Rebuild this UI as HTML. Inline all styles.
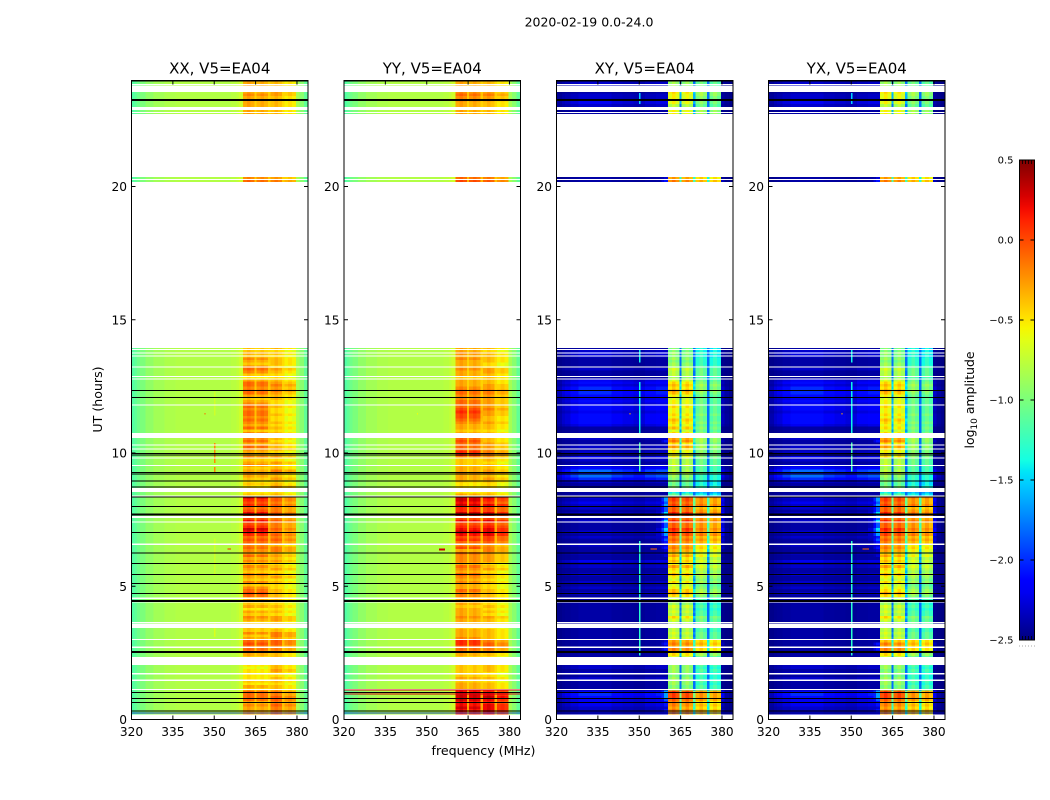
<!DOCTYPE html>
<html>
<head>
<meta charset="utf-8">
<title>2020-02-19 amplitude waterfall</title>
<style>
html,body{margin:0;padding:0;background:#fff;}
svg{display:block;font-family:"DejaVu Sans","Liberation Sans",sans-serif;fill:#000;}
</style>
</head>
<body>
<svg id="chart" xmlns="http://www.w3.org/2000/svg" width="1050" height="800" viewBox="0 0 1050 800">
<defs><linearGradient id="jetGrad" x1="0" y1="1" x2="0" y2="0"></linearGradient></defs>
<rect x="0" y="0" width="1050" height="800" fill="#fff"></rect>
<text x="589" y="26.5" font-size="12.5" text-anchor="middle">2020-02-19 0.0-24.0</text>
<text x="483.5" y="755" font-size="12.6" text-anchor="middle">frequency (MHz)</text>
<text transform="translate(102,399.5) rotate(-90)" font-size="12.6" text-anchor="middle">UT (hours)</text>
<g id="panels"></g>
<g id="colorbar"></g>
<text transform="translate(974,400) rotate(-90)" font-size="12.4" text-anchor="middle">log<tspan font-size="9" dy="3">10</tspan><tspan dy="-3"> amplitude</tspan></text>
</svg>
<script>
// Row start times (hours) of the populated upper rows; rows 0..139 are the 0-14 h block.
const upperRowHours = [20.18,20.28,22.7,22.8,23.0,23.1,23.2,23.3,23.4,23.5,23.8,23.9];

// Channel edges in MHz
const channelEdges = [320,321,322,323,325,328,332,336,340,344,348,352,354,356,358,359,360.4,
  361.8,363.2,364.6,365.4,366.8,368.1,369.5,370.4,371.8,373.2,374.6,375.4,376.8,378.2,379.6,381,382.5,384];
// Channel kind: -1 out of band, 0 = lower bands, 1 = upper bands, 2 = gap
const channelKind = [-1,-1,-1,-1,-1,-1,-1,-1,-1,-1,-1,-1,-1,-1,-1,-1, 0,0,0,2,0,0,0,2,1,1,1,2,1,1,1, -1,-1,-1];

// Out-of-band co-pol spectrum (0.1 dex), one per out-of-band channel
const coSpectrum = [-11.5,-11,-10.5,-10,-9.2,-8.6,-8.2,-8,-8,-8,-8,-8,-8,-7.8,-7.5,-7,-8.5,-9.5,-11];
// Out-of-band cross-pol spectral weight for faint background structure
const crossSpectrum = [.3,.3,.5,.6,.8,1,1,1,.8,.7,.6,.8,.8,.9,.9,.9,.4,.2,.1];
// Leakage near the band edge in cross-pol
const crossLeak = [0,0,0,0,0,0,0,0,0,0,0,0,.05,.15,.4,.7,.25,.05,0];
// Constant offset for each of the four bands, 0.1 dex
const coBandTrim = [0,-.3,.3,-1.2];
const crossBandTrim = [.5,0,-.3,-1];

// Band levels by time row, 0.1 dex. Lower bands (360-370 MHz) and upper bands (370-380 MHz).
const xxLower = [
-4,-4,-3,-3,-3,-2,-3,-1,-1,-1,
-1,-4,-3,-5,-4,-5,-5,-5,-5,-6,
-5,-4,-4,-4,-3,-2,-1,-1,0,-1,
-3,-4,-2,-4,-4,-4,-4,-3,-2,-4,
-3,-5,-3,-4,-4,-3,-1,0,-1,-2,
-4,-2,-4,-3,-2,-4,-3,-2,-4,-2,
-3,-1,-3,-2,-1,-2,-1,0,-1,1,
2,3,1,0,2,0,1,2,0,-1,
1,0,1,3,-4,-5,-5,-5,-4,-5,
-4,-3,-2,-3,-4,-2,-3,-4,-2,-3,
-3,-2,-1,-3,-1,-2,-2,-2,-4,-1,
-3,-2,-1,-2,-1,-1,-2,-1,-2,-3,
-4,-3,-1,-1,-2,-1,-1,-3,-5,-4,
-2,-1,-2,-4,-3,-2,-4,-3,-4,-4,
-1,-2,-3,-3,-3,-3,-3,-3,-2,-3,-3,-3];
const xxUpper = [
-2,-2,-2,-2,-2,-1,-2,-1,-1,-2,
-2,-4,-4,-5,-4,-4,-5,-4,-3,-4,
-4,-4,-4,-4,-4,-3,-2,-2,-1,-1,
-3,-2,-2,-4,-5,-5,-4,-3,-3,-5,
-4,-5,-4,-5,-5,-4,-4,-4,-4,-5,
-5,-4,-5,-3,-4,-5,-3,-4,-5,-3,
-4,-3,-4,-2,-2,-4,-2,-1,-2,-1,
-2,-1,-2,-2,-1,-2,-1,-1,-2,-2,
-1,-2,-1,-1,-4,-5,-4,-3,-4,-5,
-3,-4,-3,-2,-4,-4,-3,-5,-3,-4,
-5,-3,-4,-4,-5,-4,-4,-4,-5,-4,
-5,-4,-5,-5,-4,-5,-5,-4,-5,-5,
-4,-4,-3,-2,-3,-2,-3,-4,-5,-5,
-4,-3,-5,-4,-4,-4,-5,-4,-5,-4,
-2,-3,-4,-4,-4,-4,-4,-4,-3,-3,-4,-4];
const yyLower = [
1,1,1,2,3,2,2,3,3,3,
2,-3,-3,-3,-4,-3,-4,-4,-4,-4,
-4,-4,-4,-4,-3,-2,-1,0,1,1,
-2,-3,-3,-3,-4,-3,-3,-3,-2,-3,
-3,-3,-4,-3,-3,-3,-2,-2,-1,-3,
-3,-2,-3,-2,-1,-3,-2,-1,-3,-2,
-2,-2,-1,-3,0,-2,-1,1,0,2,
3,2,1,0,2,0,2,3,1,1,
3,2,3,3,-3,-5,-5,-5,-5,-4,
-3,-3,-2,-3,-3,-4,-4,-4,-2,1,
1,-1,-1,-1,0,-1,-1,-3,-4,-3,
-3,-2,-1,0,0,1,0,-1,-1,-1,
-2,-2,-1,-1,-2,-3,-3,-3,-4,-3,
-3,-2,-3,-3,-3,-2,-3,-2,-3,-3,
0,-1,-3,-3,-3,-3,-2,-2,-1,-2,-3,-3];
const yyUpper = [
1,1,1,2,2,2,1,2,3,2,
1,-4,-4,-4,-5,-4,-5,-5,-4,-4,
-4,-4,-4,-5,-4,-3,-2,-1,-1,-2,
-4,-4,-4,-4,-5,-5,-4,-4,-3,-5,
-4,-5,-4,-5,-5,-4,-4,-4,-4,-5,
-5,-4,-5,-4,-4,-5,-3,-4,-5,-3,
-3,-3,-3,-2,-2,-3,-1,0,0,2,
2,2,1,0,2,0,1,2,0,0,
2,0,1,2,-4,-5,-5,-5,-5,-4,
-3,-4,-2,-3,-4,-4,-5,-4,-3,-2,
-2,-3,-3,-3,-4,-4,-4,-4,-5,-4,
-4,-3,-4,-4,-3,-3,-2,-3,-3,-3,
-3,-3,-2,-2,-3,-3,-4,-4,-4,-4,
-3,-3,-5,-5,-4,-4,-4,-4,-5,-4,
-1,-2,-4,-4,-4,-4,-3,-3,-2,-3,-4,-4];
const xyLower = [
-3,-3,-3,-2,-3,-2,-2,-1,0,0,
0,-9,-10,-9,-9,-9,-10,-9,-9,-9,
-9,-9,-9,-7,-5,-3,-2,-3,-2,-3,
-7,-8,-7,-8,-8,-8,-8,-7,-5,-8,
-7,-8,-7,-9,-9,-8,-5,-3,-4,-6,
-7,-5,-7,-6,-4,-6,-5,-3,-6,-4,
-5,-3,-5,-3,-2,-3,-2,-1,-2,0,
0,1,-1,-1,1,-1,0,1,-1,-1,
0,-1,0,0,-11,-14,-11,-10,-11,-10,
-10,-9,-7,-8,-9,-7,-8,-8,-6,-6,
-6,-5,-3,-5,-2,-3,-4,-5,-7,-4,
-6,-5,-4,-6,-5,-6,-6,-5,-6,-6,
-7,-6,-4,-3,-5,-4,-5,-7,-9,-8,
-8,-7,-9,-9,-10,-9,-10,-9,-10,-10,
-2,-3,-6,-6,-8,-6,-6,-6,-6,-5,-9,-9];
const xyUpper = [
-4,-4,-4,-3,-4,-3,-4,-2,-2,-2,
-2,-11,-11,-12,-11,-12,-12,-12,-11,-12,
-11,-11,-11,-10,-8,-5,-4,-4,-3,-4,
-10,-10,-10,-11,-11,-11,-10,-10,-9,-11,
-11,-12,-11,-12,-12,-11,-9,-7,-8,-9,
-10,-8,-9,-8,-7,-8,-7,-6,-8,-6,
-7,-5,-7,-5,-4,-5,-3,-2,-3,-1,
-2,-1,-2,-2,-1,-2,-1,-1,-2,-3,
-1,-2,-2,-1,-13,-15,-13,-12,-13,-13,
-12,-12,-10,-11,-11,-10,-10,-10,-9,-9,
-9,-9,-8,-9,-8,-8,-9,-9,-10,-9,
-10,-9,-10,-10,-9,-10,-10,-10,-10,-10,
-10,-10,-9,-8,-9,-8,-9,-10,-11,-10,
-10,-10,-11,-12,-12,-12,-13,-12,-13,-13,
-3,-4,-8,-8,-10,-9,-9,-9,-8,-8,-10,-10];
const yxLower = [
-3,-3,-3,-2,-3,-2,-2,-1,0,0,
0,-9,-10,-9,-9,-9,-10,-9,-10,-9,
-9,-9,-9,-7,-5,-3,-2,-3,-2,-4,
-7,-8,-7,-8,-8,-8,-8,-7,-5,-8,
-7,-8,-7,-9,-9,-8,-5,-3,-5,-6,
-7,-5,-7,-6,-4,-6,-5,-3,-6,-4,
-5,-3,-5,-3,-2,-3,-2,-1,-2,0,
0,1,-1,-1,1,-1,0,1,-1,-1,
0,-1,0,0,-11,-14,-11,-10,-11,-10,
-10,-9,-7,-8,-9,-7,-8,-8,-5,-5,
-6,-5,-3,-5,-2,-3,-4,-5,-7,-5,
-6,-5,-4,-6,-5,-6,-6,-5,-6,-6,
-7,-6,-4,-3,-5,-4,-5,-7,-9,-8,
-8,-7,-9,-9,-10,-9,-10,-9,-10,-10,
-2,-3,-6,-6,-8,-6,-6,-6,-6,-5,-9,-9];
const yxUpper = [
-4,-4,-4,-3,-4,-3,-4,-2,-2,-2,
-2,-11,-11,-12,-11,-12,-12,-12,-11,-12,
-11,-11,-11,-10,-8,-5,-4,-4,-3,-4,
-10,-10,-10,-11,-11,-11,-10,-10,-9,-11,
-11,-12,-11,-12,-12,-11,-9,-7,-8,-9,
-10,-8,-9,-8,-7,-8,-7,-6,-8,-6,
-7,-5,-7,-5,-4,-5,-3,-2,-3,-1,
-2,-1,-2,-2,-1,-2,-1,-1,-2,-3,
-1,-2,-2,-1,-13,-15,-13,-12,-13,-13,
-12,-12,-10,-11,-11,-10,-10,-10,-9,-9,
-9,-9,-8,-9,-8,-8,-9,-9,-10,-9,
-10,-9,-10,-10,-9,-10,-10,-10,-10,-10,
-10,-10,-9,-8,-9,-8,-9,-10,-11,-10,
-10,-10,-11,-12,-12,-12,-13,-12,-13,-13,
-3,-4,-8,-8,-10,-9,-9,-9,-8,-8,-10,-10];
// Faint off-band structure in cross-pols, 0.1 dex above the floor
const crossBackground = [
1,1,2,2,2,3,3,3,4,5,
3,1,1,1,1,2,1,2,1,2,
2,2,2,1,1,1,1,1,1,1,
1,1,1,1,1,1,1,1,1,1,
1,1,1,1,1,1,1,2,1,2,
1,2,1,1,2,1,1,2,1,3,
1,1,2,1,1,2,1,1,2,1,
2,1,1,1,2,1,1,2,1,2,
2,3,2,3,1,1,1,1,1,3,
5,7,4,7,4,2,1,2,3,2,
2,1,2,1,1,2,1,1,1,1,
3,4,4,4,4,3,4,4,3,4,
3,4,5,5,5,3,4,3,1,1,
1,2,1,1,1,1,2,3,2,1,
1,1,1,1,2,3,3,2,2,1,2,2];

// Horizontal flag bands with no data, hour ranges
const whiteStarts = [0,1.11,1.44,1.69,2.045,2.69,2.99,3.43,3.61,4.39,4.53,6.555,7.39,7.56,8.37,8.54,9.51,9.79,10.13,10.28,10.56,11.78,12.76,12.85,13.21,13.62,13.73,13.87,13.94,20.25,20.36,22.7,22.76,22.87,23.55,23.8];
const whiteEnds   = [.195,1.15,1.5,1.745,2.345,2.73,3.03,3.58,3.65,4.43,4.57,6.595,7.43,7.64,8.41,8.68,9.55,9.83,10.17,10.32,10.75,11.82,12.8,12.89,13.25,13.66,13.77,13.91,14,20.28,20.4,22.72,22.8,22.9,23.6,23.84];
// Zero-amplitude rows drawn in black: hour, thickness
const blackHours = [.31,.645,.795,1.02,2.53,4.45,4.735,5.11,5.45,5.86,6.24,7.02,7.685,8,8.34,8.72,8.95,9.21,9.26,9.925,9.99,12.09,12.34,23.25,23.96];
const blackThick = [1,1,1,1,2,2,1,1,1,1,1,1,2,1,1,1,1,1,1,1,1,1,1,2,1];
// Narrow interference features per panel: f0, f1, t0, t1, value(0.1 dex)
const coInterference = [[350,350.4,9.62,10.37,-2],[350,350.4,9.29,9.47,-2],[350,350.4,11.4,12.3,-7],[350,350.4,3.1,3.6,-6.5],[350,350.4,5.4,6.8,-7]];
const xxSpots = [[346.4,346.9,11.44,11.5,-1],[354.9,356.1,6.37,6.42,1]];
const yySpots = [[354.5,356.6,6.35,6.42,3],[346.4,346.9,11.44,11.5,-6]];
const crossInterference = [[350,350.4,2.4,6.7,-13],[350,350.4,9.3,10.4,-12],[350,350.4,10.75,12.66,-14],[350,350.4,13.4,13.9,-14],[350,350.4,23.1,23.5,-15]];
const crossSpots = [[346.4,346.9,11.44,11.5,-3],[354,356.5,6.37,6.42,-1]];
// YY-only red lines and the common blue line, hours
const yyRedHours = [1.1,.95];
const blueHours = [.24];

const xTicks = [320,335,350,365,380];
const yTicks = [0,5,10,15,20];
const cbarTicks = [0.5,0,-0.5,-1,-1.5,-2,-2.5];
const cbarTickLabels = ["0.5","0.0","\u22120.5","\u22121.0","\u22121.5","\u22122.0","\u22122.5"];

const panelDefs = [
 {name:"XX, V5=EA04",key:"xx",left:131.5,right:308,lower:xxLower,upper:xxUpper,cross:false,rfi:coInterference.concat(xxSpots)},
 {name:"YY, V5=EA04",key:"yy",left:344,right:520.5,lower:yyLower,upper:yyUpper,cross:false,rfi:yySpots},
 {name:"XY, V5=EA04",key:"xy",left:556.5,right:733,lower:xyLower,upper:xyUpper,cross:true,rfi:crossInterference.concat(crossSpots)},
 {name:"YX, V5=EA04",key:"yx",left:768.5,right:945,lower:yxLower,upper:yxUpper,cross:true,rfi:crossInterference.concat(crossSpots)}
];

const NS = "http://www.w3.org/2000/svg";
function svgEl(tag, attrs, parent){
  const e = document.createElementNS(NS, tag);
  for (const k in attrs) e.setAttribute(k, attrs[k]);
  if (parent) parent.appendChild(e);
  return e;
}
function seg(pts, t){
  for (let i = 1; i < pts.length; i++){
    if (t <= pts[i][0]){
      const a = pts[i-1], b = pts[i];
      return a[1] + (b[1]-a[1])*(t-a[0])/(b[0]-a[0]);
    }
  }
  return pts[pts.length-1][1];
}
const R = [[0,0],[.35,0],[.66,1],[.89,1],[1,.5]];
const G = [[0,0],[.125,0],[.375,1],[.64,1],[.91,0],[1,0]];
const B = [[0,.5],[.11,1],[.34,1],[.65,0],[1,0]];
function jet(t){
  t = Math.max(0, Math.min(1, t));
  return "rgb(" + Math.round(255*seg(R,t)) + "," + Math.round(255*seg(G,t)) + "," + Math.round(255*seg(B,t)) + ")";
}
// value in 0.1 dex -> colour
function colorOf(v){ return jet((v/10 + 2.5)/3); }

const yAxis = t => 719.5 - t*26.65;
const rowCount = 140 + upperRowHours.length;
function rowHour(i){ return i < 140 ? i*0.1 : upperRowHours[i-140]; }

function cellValue(p, row, ch){
  const kind = channelKind[ch];
  const level = p.lower[row], levelUp = p.upper[row];
  if (kind === -1){
    const oi = ch < 16 ? ch : ch - 15;
    if (!p.cross) return coSpectrum[oi];
    const base = -25 + crossBackground[row]*crossSpectrum[oi];
    const leak = -25 + crossLeak[oi]*Math.max(0, level+4)*3;
    return Math.max(base, leak);
  }
  if (kind === 2){
    const ref = ch < 24 ? level : levelUp;
    if (!p.cross) return -5 + (ref+5)*0.3;
    return -18 + Math.max(0, ref+8)*1.0;
  }
  const v = kind === 0 ? level : levelUp;
  const band = Math.floor((ch - 16) / 4);
  const pos = (ch - 16) % 4;
  const trim = p.cross ? crossBandTrim[band] : coBandTrim[band];
  const edge = pos === 1 ? 0.4 : (p.cross ? -0.8 : -0.2);
  return v + trim + edge;
}

function drawPanel(p, root){
  const g = svgEl("g", {}, root);
  
  
  const xAxis = f => p.left + (f-320)*(p.right-p.left)/64;

  const cells = svgEl("g", {"shape-rendering":"crispEdges"}, g);
  
  
  const frag = document.createDocumentFragment();
  for (let r = 0; r < rowCount; r++){
    const t0 = rowHour(r);
    const yTop = yAxis(t0 + 0.1), yBot = yAxis(t0);
    for (let c = 0; c < channelEdges.length-1; c++){
      const x0 = xAxis(channelEdges[c]), x1 = xAxis(channelEdges[c+1]);
      const cell = svgEl("rect", {x:x0.toFixed(2), y:yTop.toFixed(2), width:(x1-x0+0.3).toFixed(2), height:(yBot-yTop+0.3).toFixed(2), fill:colorOf(cellValue(p,r,c))});
      
      
      frag.appendChild(cell);
    }
  }
  cells.appendChild(frag);

  const overlay = svgEl("g", {"shape-rendering":"crispEdges"}, g);
  
  
  p.rfi.forEach(q => {
    const m = svgEl("rect", {x:xAxis(q[0]), y:yAxis(q[3]), width:Math.max(1, xAxis(q[1])-xAxis(q[0])), height:Math.max(1, yAxis(q[2])-yAxis(q[3])), fill:colorOf(q[4])}, overlay);
    
    
  });
  whiteStarts.forEach((s,i) => {
    const m = svgEl("rect", {x:p.left, y:yAxis(whiteEnds[i]), width:p.right-p.left, height:Math.max(1, yAxis(s)-yAxis(whiteEnds[i])), fill:"#fff"}, overlay);
    
    
  });
  blueHours.forEach(h => {
    const m = svgEl("rect", {x:p.left, y:yAxis(h)-0.5, width:p.right-p.left, height:1, fill:p.cross?"#00007f":"#2040c0"}, overlay);
    
    
  });
  blackHours.forEach((h,i) => {
    const m = svgEl("rect", {x:p.left, y:(yAxis(h)-blackThick[i]/2).toFixed(2), width:p.right-p.left, height:blackThick[i], fill:"#000"}, overlay);
    
    
  });
  if (p.key === "yy"){
    yyRedHours.forEach(h => {
      const m = svgEl("rect", {x:p.left, y:yAxis(h)-0.5, width:p.right-p.left, height:1, fill:"#d00010"}, overlay);
      
      
    });
  }

  const frame = svgEl("rect", {x:p.left, y:80.5, width:p.right-p.left, height:639, fill:"none", stroke:"#000", "stroke-width":1}, g);
  
  

  xTicks.forEach(v => {
    const x = xAxis(v);
    const a = svgEl("line", {x1:x, x2:x, y1:719.5, y2:715.5, stroke:"#000"}, g);
    
    
    const b = svgEl("line", {x1:x, x2:x, y1:80.5, y2:84.5, stroke:"#000"}, g);
    
    
    const lab = svgEl("text", {x:x, y:736, "font-size":12.2, "text-anchor":"middle"}, g);
    
    
    lab.textContent = String(v);
  });
  yTicks.forEach(v => {
    const y = yAxis(v);
    const a = svgEl("line", {x1:p.left, x2:p.left+4, y1:y, y2:y, stroke:"#000"}, g);
    
    
    const b = svgEl("line", {x1:p.right-4, x2:p.right, y1:y, y2:y, stroke:"#000"}, g);
    
    
    const lab = svgEl("text", {x:p.left-4.5, y:y+4.5, "font-size":12.2, "text-anchor":"end"}, g);
    
    
    lab.textContent = String(v);
  });
  const title = svgEl("text", {x:(p.left+p.right)/2, y:73.5, "font-size":15, "text-anchor":"middle"}, g);
  
  
  title.textContent = p.name;
}

const panelsRoot = document.getElementById("panels");
panelDefs.forEach(p => drawPanel(p, panelsRoot));

// Colour bar
const grad = document.getElementById("jetGrad");
for (let i = 0; i <= 40; i++){
  svgEl("stop", {offset:(i/40).toFixed(3), "stop-color":jet(i/40)}, grad);
}
const cb = document.getElementById("colorbar");
const cbLeft = 1019.5, cbRight = 1034.5, cbTop = 160, cbBottom = 640;
const cbY = v => cbBottom - (v+2.5)/3*(cbBottom-cbTop);
const cbBar = svgEl("rect", {x:cbLeft, y:cbTop, width:cbRight-cbLeft, height:cbBottom-cbTop, fill:"url(#jetGrad)", stroke:"#000", "stroke-width":1}, cb);


cbarTicks.forEach((v,i) => {
  const y = cbY(v);
  const a = svgEl("line", {x1:cbLeft, x2:cbLeft+4, y1:y, y2:y, stroke:"#000"}, cb);
  
  
  const b = svgEl("line", {x1:cbRight-4, x2:cbRight, y1:y, y2:y, stroke:"#000"}, cb);
  
  
  const lab = svgEl("text", {x:cbLeft-6, y:y+3.5, "font-size":10, "text-anchor":"end"}, cb);
  
  
  lab.textContent = cbarTickLabels[i];
});
for (let k = 0; k < 6; k++){
  const x = cbLeft + k*3;
  const t = svgEl("line", {x1:x, x2:x, y1:cbTop, y2:cbTop+4, stroke:"#000", "stroke-width":0.8}, cb);
  
  
  const u = svgEl("line", {x1:x, x2:x, y1:cbBottom-4, y2:cbBottom, stroke:"#000", "stroke-width":0.8}, cb);
  
  
  const d = svgEl("rect", {x:x-0.5, y:645.5, width:1, height:1, fill:"#aaa"}, cb);
  
  
}
</script>
</body>
</html>
